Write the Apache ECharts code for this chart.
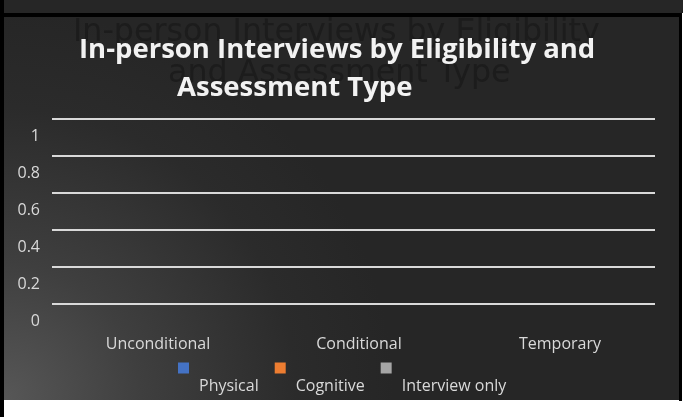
<!DOCTYPE html>
<html>
<head>
<meta charset="utf-8">
<script src="https://cdn.jsdelivr.net/npm/echarts@6/dist/echarts.min.js"></script>
<style>
html,body{margin:0;padding:0;background:#ffffff;}
#chart{width:683px;height:417px;}
</style>
</head>
<body>
<div id="chart"></div>
<script>
// ---- data ----
const categories = ['Unconditional', 'Conditional', 'Temporary'];
const seriesNames = ['Physical', 'Cognitive', 'Interview only'];
const physicalValues = [0, 0, 0];
const cognitiveValues = [0, 0, 0];
const interviewOnlyValues = [0, 0, 0];
const yMin = 0;
const yMax = 1;
const yStep = 0.2;
const titleLine1 = 'In-person Interviews by Eligibility and';
const titleLine2 = 'Assessment Type';
const shadowLine1 = 'In-person Interviews by Eligibility';
const shadowLine2 = 'and Assessment Type';

const FONT = '"Open Sans", "Noto Sans", sans-serif';
const SHADOW_FONT = '"DejaVu Sans", sans-serif';
const LABEL = '#d9d9d9';

const chart = echarts.init(document.getElementById('chart'), null, {renderer: 'canvas'});

const option = {
  backgroundColor: '#ffffff',
  animation: false,
  graphic: [
    {type: 'rect', z: -10, silent: true, shape: {x: 0, y: 0, width: 683, height: 13}, style: {fill: '#262626'}},
    {type: 'rect', z: -10, silent: true, shape: {x: 0, y: 13, width: 682, height: 4}, style: {fill: '#000000'}},
    {type: 'rect', z: -10, silent: true, shape: {x: 4, y: 17, width: 675, height: 383},
      style: {fill: {type: 'radial', x: 4, y: 400, r: 390, global: true,
        colorStops: [{offset: 0, color: '#575757'}, {offset: 0.35, color: '#3f3f3f'}, {offset: 0.75, color: '#2b2b2b'}, {offset: 1, color: '#262626'}]}}},
    {type: 'rect', z: -10, silent: true, shape: {x: 0, y: 0, width: 4, height: 417}, style: {fill: '#000000'}},
    {type: 'rect', z: -10, silent: true, shape: {x: 679, y: 13, width: 3, height: 388}, style: {fill: '#000000'}}
  ],
  title: [
    {text: shadowLine1, left: 73, top: 17, padding: 0,
      textStyle: {fontFamily: SHADOW_FONT, fontSize: 31.7, fontWeight: 'normal', color: '#1c1c1c'}},
    {text: shadowLine2, left: 168, top: 58, padding: 0,
      textStyle: {fontFamily: SHADOW_FONT, fontSize: 31.7, fontWeight: 'normal', color: '#1c1c1c'}},
    {text: titleLine1, left: 79, top: 36, padding: 0,
      textStyle: {fontFamily: FONT, fontSize: 27.5, fontWeight: 'bold', color: '#f2f2f2'}},
    {text: titleLine2, left: 177, top: 74, padding: 0,
      textStyle: {fontFamily: FONT, fontSize: 27.5, fontWeight: 'bold', color: '#f2f2f2'}}
  ],
  legend: {
    data: seriesNames,
    left: 178,
    top: 341.5,
    padding: 0,
    itemGap: 16,
    itemWidth: 11,
    itemHeight: 11,
    icon: 'rect',
    formatter: function (name) { return '{t|' + name + '}'; },
    textStyle: {
      fontFamily: FONT, fontSize: 16, color: LABEL,
      rich: {t: {fontFamily: FONT, fontSize: 16, color: LABEL, lineHeight: 20, padding: [37, 0, 0, 5]}}
    }
  },
  grid: {left: 52, right: 28, top: 119, bottom: 113, containLabel: false},
  xAxis: {
    type: 'category',
    data: categories,
    axisLine: {show: false},
    axisTick: {show: false},
    axisLabel: {fontFamily: FONT, fontSize: 16, color: LABEL, margin: 32, padding: [0, 0, 0, 11]}
  },
  yAxis: {
    type: 'value',
    min: yMin,
    max: yMax,
    interval: yStep,
    axisLine: {show: false},
    axisTick: {show: false},
    splitLine: {show: true, lineStyle: {color: '#d9d9d9', width: 2}},
    axisLabel: {fontFamily: FONT, fontSize: 16, color: LABEL, margin: 12, verticalAlign: 'top', padding: [9, 0, 0, 0]}
  },
  series: [
    {name: seriesNames[0], type: 'bar', data: physicalValues, itemStyle: {color: '#4472c4'}},
    {name: seriesNames[1], type: 'bar', data: cognitiveValues, itemStyle: {color: '#ed7d31'}},
    {name: seriesNames[2], type: 'bar', data: interviewOnlyValues, itemStyle: {color: '#a5a5a5'}}
  ]
};
chart.setOption(option);
</script>
</body>
</html>
